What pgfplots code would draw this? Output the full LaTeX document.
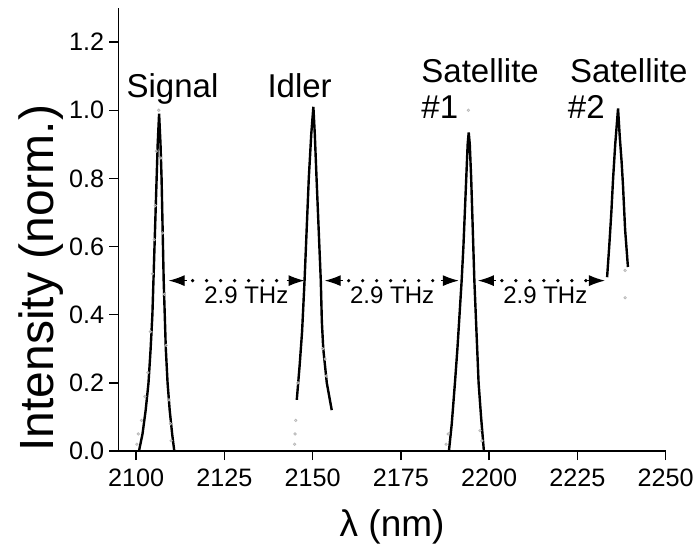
\documentclass[border=0pt]{standalone}
\usepackage{fontspec}
\setmainfont{Liberation Sans}
\usepackage{pgfplots}
\pgfplotsset{compat=1.18}
\usetikzlibrary{arrows.meta}
\begin{document}
\begin{tikzpicture}
\begin{axis}[
  scale only axis, width=273.6pt, height=221.5pt,
  xmin=2095, xmax=2250, ymin=0, ymax=1.3,
  axis lines*=left,
  axis line style={line width=0.8pt},
  xtick={2100,2125,2150,2175,2200,2225,2250},
  ytick={0,0.2,0.4,0.6,0.8,1.0,1.2},
  tick align=outside, major tick length=4.5pt,
  tick style={black, line width=0.7pt},
  ticklabel style={font=\fontsize{12.6}{15}\selectfont},
  xticklabel style={inner ysep=4pt, /pgf/number format/set thousands separator={}},
  yticklabel style={inner xsep=2.5pt, /pgf/number format/.cd, fixed, fixed zerofill, precision=1},
  /pgf/number format/assume math mode=true,
  xlabel={λ (nm)},
  ylabel={Intensity (norm.)},
  xlabel style={font=\fontsize{18.5}{20}\selectfont, at={(axis description cs:0.5,-0.172)}, anchor=center},
  ylabel style={font=\fontsize{24}{26}\selectfont, at={(axis description cs:-0.141,0.39)}, anchor=center},
  clip=false,
]
% measured data (faint points)
\addplot[only marks, mark=o, mark size=0.6pt, gray!55] coordinates {
(2100.2,0.02) (2100.6,0.05) (2101.5,0.09) (2102.5,0.16) (2103.3,0.23) (2104.0,0.35) (2104.6,0.52)
(2105.1,0.62) (2105.4,0.72) (2105.7,0.88) (2106.4,1.0) (2107.0,0.86) (2107.5,0.64) (2108.0,0.46)
(2108.5,0.31) (2109.3,0.15) (2109.7,0.08) (2109.9,0.03)
(2144.9,0.02) (2145.0,0.05) (2145.2,0.09) (2145.8,0.2) (2152.8,0.3) (2153.5,0.27) (2153.9,0.22)
(2187.8,0.02) (2188.4,0.05) (2194.1,1.0) (2197.4,0.06) (2197.9,0.03)
(2238.5,0.53) (2238.5,0.45)
};
% Signal
\addplot[black, line width=1.2pt] coordinates {
(2100.8,0) (2101.8,0.05) (2102.7,0.12) (2103.5,0.2) (2104.1,0.3) (2104.6,0.4) (2104.9,0.5)
(2105.2,0.6) (2105.5,0.7) (2105.8,0.8) (2106.1,0.9) (2106.5,0.99) (2106.9,0.9) (2107.2,0.8)
(2107.4,0.7) (2107.6,0.6) (2107.8,0.5) (2108.1,0.4) (2108.4,0.3) (2108.9,0.2) (2109.5,0.12)
(2110.2,0.05) (2110.8,0)
};
% Idler
\addplot[black, line width=1.2pt] coordinates {
(2145.5,0.15) (2146.3,0.25) (2147.0,0.35) (2147.7,0.5) (2148.3,0.65) (2148.9,0.8) (2149.6,0.93)
(2150.2,1.01) (2150.6,0.93) (2151.1,0.8) (2151.7,0.65) (2152.3,0.5) (2152.6,0.38) (2153.0,0.3)
(2154.0,0.2) (2155.4,0.12)
};
% Satellite 1
\addplot[black, line width=1.2pt] coordinates {
(2188.6,0) (2189.4,0.08) (2190.3,0.2) (2191.0,0.3) (2191.6,0.4) (2192.2,0.5) (2192.7,0.6)
(2193.1,0.7) (2193.5,0.8) (2193.9,0.9) (2194.2,0.935) (2194.5,0.9) (2194.9,0.8) (2195.2,0.7)
(2195.5,0.6) (2195.8,0.5) (2196.2,0.4) (2196.6,0.3) (2197.0,0.2) (2197.7,0.1) (2198.5,0)
};
% Satellite 2
\addplot[black, line width=1.2pt] coordinates {
(2233.4,0.51) (2234.0,0.6) (2234.6,0.7) (2235.1,0.8) (2235.7,0.9) (2236.5,1.005) (2237.0,0.92)
(2237.5,0.85) (2237.9,0.78) (2238.5,0.65) (2239.3,0.54)
};
% labels
\node[font=\fontsize{16.5}{18}\selectfont, anchor=base] at (axis cs:2110.3,1.038) {Signal};
\node[font=\fontsize{16.5}{18}\selectfont, anchor=base] at (axis cs:2146.3,1.038) {Idler};
\node[font=\fontsize{16.5}{18}\selectfont, anchor=base west, inner sep=0pt] at (axis cs:2180.7,1.082) {Satellite};
\node[font=\fontsize{16.5}{18}\selectfont, anchor=base west, inner sep=0pt] at (axis cs:2180.7,0.976) {\#1};
\node[font=\fontsize{16.5}{18}\selectfont, anchor=base west, inner sep=0pt] at (axis cs:2222.8,1.082) {Satellite};
\node[font=\fontsize{16.5}{18}\selectfont, anchor=base west, inner sep=0pt] at (axis cs:2222.2,0.976) {\#2};
% arrows
\draw[-{Latex[length=8pt,width=5.5pt]}, line width=0.6pt] ([xshift=9pt]axis cs:2109.2,0.5) -- (axis cs:2109.2,0.5);
\draw[-{Latex[length=8pt,width=5.5pt]}, line width=0.6pt] ([xshift=-9pt]axis cs:2147.7,0.5) -- (axis cs:2147.7,0.5);
\draw[line width=1.8pt, line cap=round, dash pattern=on 0pt off 7pt] ([xshift=12pt]axis cs:2109.2,0.5) -- ([xshift=-9pt]axis cs:2147.7,0.5);
\draw[-{Latex[length=8pt,width=5.5pt]}, line width=0.6pt] ([xshift=9pt]axis cs:2153.4,0.5) -- (axis cs:2153.4,0.5);
\draw[-{Latex[length=8pt,width=5.5pt]}, line width=0.6pt] ([xshift=-9pt]axis cs:2191.4,0.5) -- (axis cs:2191.4,0.5);
\draw[line width=1.8pt, line cap=round, dash pattern=on 0pt off 7pt] ([xshift=12pt]axis cs:2153.4,0.5) -- ([xshift=-9pt]axis cs:2191.4,0.5);
\draw[-{Latex[length=8pt,width=5.5pt]}, line width=0.6pt] ([xshift=9pt]axis cs:2196.8,0.5) -- (axis cs:2196.8,0.5);
\draw[-{Latex[length=8pt,width=5.5pt]}, line width=0.6pt] ([xshift=-9pt]axis cs:2232.8,0.5) -- (axis cs:2232.8,0.5);
\draw[line width=1.8pt, line cap=round, dash pattern=on 0pt off 7pt] ([xshift=12pt]axis cs:2196.8,0.5) -- ([xshift=-9pt]axis cs:2232.8,0.5);
\node[font=\fontsize{12}{14}\selectfont] at (axis cs:2131.2,0.457) {2.9 THz};
\node[font=\fontsize{12}{14}\selectfont] at (axis cs:2172.5,0.457) {2.9 THz};
\node[font=\fontsize{12}{14}\selectfont] at (axis cs:2215.9,0.457) {2.9 THz};
\end{axis}
% overlay axis: minor ticks pointing inward
\begin{axis}[
  scale only axis, width=273.6pt, height=221.5pt,
  xmin=2095, xmax=2250, ymin=0, ymax=1.3,
  axis lines*=left,
  axis line style={line width=0.8pt},
  xtick=\empty, ytick=\empty,
  minor xtick={2112.5,2137.5,2162.5,2187.5,2212.5,2237.5},
  minor ytick={0.1,0.3,0.5,0.7,0.9,1.1},
  tick align=inside, minor tick length=2.8pt,
  tick style={black, line width=0.7pt},
]
\end{axis}
\pgfresetboundingbox
\path[use as bounding box] (-59.25pt,-48.5pt) rectangle (288.25pt,225.5pt);
\end{tikzpicture}
\end{document}
